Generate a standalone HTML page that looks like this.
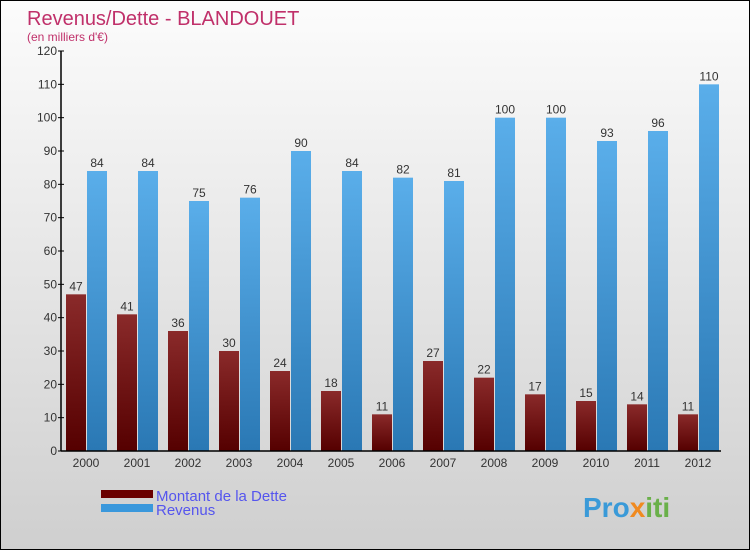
<!DOCTYPE html>
<html><head><meta charset="utf-8"><style>
body{margin:0}
#c{width:750px;height:550px;position:relative;box-sizing:border-box;border:1px solid #000;background:linear-gradient(#fcfcfc,#cfcfcf);font-family:"Liberation Sans",sans-serif;overflow:hidden}
</style></head><body>
<div id="c">
<svg id="s" width="750" height="550" style="position:absolute;left:0;top:0">
<defs>
<linearGradient id="gd" x1="0" y1="0" x2="0" y2="1"><stop offset="0" stop-color="#8a2a2a"/><stop offset="1" stop-color="#550000"/></linearGradient>
<linearGradient id="gr" x1="0" y1="0" x2="0" y2="1"><stop offset="0" stop-color="#5aaeea"/><stop offset="1" stop-color="#2a78b4"/></linearGradient>
</defs>
<text x="26" y="24" font-size="20" fill="#c0306a">Revenus/Dette - BLANDOUET</text>
<text x="26" y="40" font-size="12" fill="#c0306a">(en milliers d'€)</text>
<g id="bars"></g>
<g id="axes"></g>
<rect x="100" y="489" width="52" height="8" fill="#6a0000"/>
<rect x="100" y="503" width="52" height="8" fill="#3a98dc"/>
<text x="155" y="500" font-size="15" fill="#5555ee">Montant de la Dette</text>
<text x="155" y="514" font-size="15" fill="#5555ee">Revenus</text>
<text x="582" y="516" font-size="28" font-weight="bold" fill="#3a9ad8">Pro<tspan fill="#f08a20">x</tspan><tspan fill="#6ab04a">iti</tspan></text>
</svg>
</div>
<script>
const years=["2000","2001","2002","2003","2004","2005","2006","2007","2008","2009","2010","2011","2012"];
const dette=[47,41,36,30,24,18,11,27,22,17,15,14,11];
const revenus=[84,84,75,76,90,84,82,81,100,100,93,96,110];
const yTicks=[0,10,20,30,40,50,60,70,80,90,100,110,120];
const NS="http://www.w3.org/2000/svg";
const y0=450,yTop=50,yMax=120,x0=85,step=51;
const Y=v=>y0-(v/yMax)*(y0-yTop);
const X=i=>x0+i*step;
function mk(t,a,p){const e=document.createElementNS(NS,t);for(const k in a)e.setAttribute(k,a[k]);p.appendChild(e);return e;}
const bars=document.getElementById('bars'),axes=document.getElementById('axes');
years.forEach((yr,i)=>{
 const cx=X(i);
 let b=mk('rect',{x:cx-20,y:Y(dette[i]),width:20,height:y0-Y(dette[i]),fill:'url(#gd)'},bars);
 
 
 let r=mk('rect',{x:cx+1,y:Y(revenus[i]),width:20,height:y0-Y(revenus[i]),fill:'url(#gr)'},bars);
 
 
 let t1=mk('text',{x:cx-10,y:Y(dette[i])-4,'font-size':12,fill:'#333','text-anchor':'middle'},bars);t1.textContent=dette[i];
 
 
 let t2=mk('text',{x:cx+11,y:Y(revenus[i])-4,'font-size':12,fill:'#333','text-anchor':'middle'},bars);t2.textContent=revenus[i];
 
 
 let xl=mk('text',{x:cx,y:466,'font-size':12,fill:'#333','text-anchor':'middle'},axes);xl.textContent=yr;
 
 
});
yTicks.forEach(v=>{
 mk('line',{x1:57,x2:63,y1:Y(v),y2:Y(v),stroke:'#000'},axes);
 let t=mk('text',{x:56,y:Y(v)+4,'font-size':12,fill:'#333','text-anchor':'end'},axes);t.textContent=v;
 
 
});
let ya=mk('line',{x1:60,x2:60,y1:yTop,y2:y0,stroke:'#000','stroke-width':1.5},axes);


let xa=mk('line',{x1:60,x2:720,y1:y0,y2:y0,stroke:'#000','stroke-width':1.5},axes);


</script>
</body></html>
